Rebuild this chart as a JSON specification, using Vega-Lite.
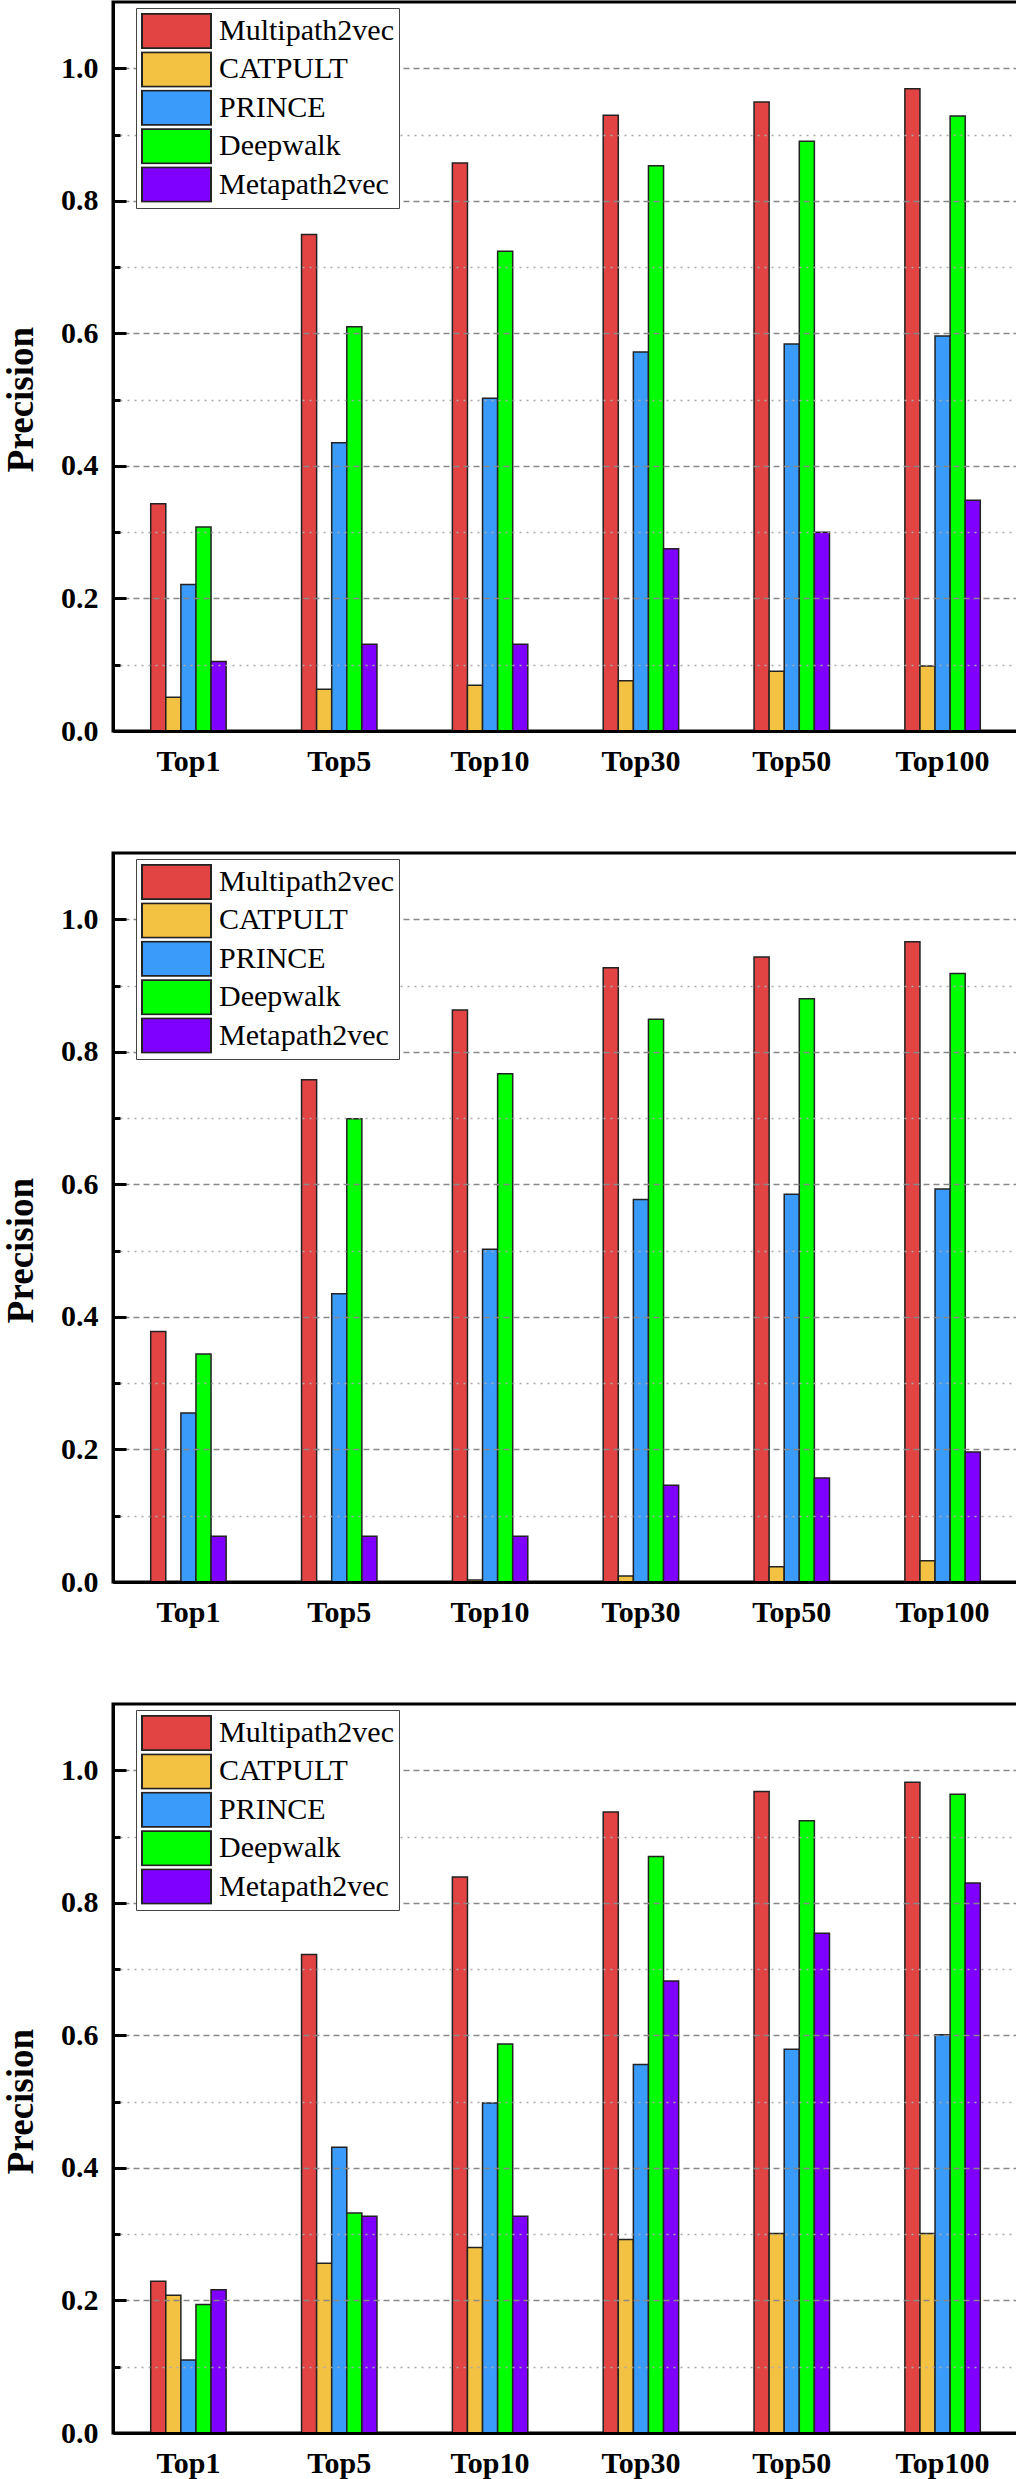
{
  "$schema": "https://vega.github.io/schema/vega-lite/v6.json",
  "padding": {"left": 0, "top": 0, "right": 0, "bottom": 0},
  "background": "white",
  "spacing": 73,
  "resolve": {"legend": {"color": "independent"}},
  "config": {
    "view": {"stroke": "black", "strokeWidth": 3},
    "font": "Liberation Serif"
  },
  "data": {"values": [
    {"p":1,"k":"Top1","m":"Multipath2vec","v":0.343},
    {"p":1,"k":"Top1","m":"CATPULT","v":0.051},
    {"p":1,"k":"Top1","m":"PRINCE","v":0.221},
    {"p":1,"k":"Top1","m":"Deepwalk","v":0.308},
    {"p":1,"k":"Top1","m":"Metapath2vec","v":0.105},
    {"p":1,"k":"Top5","m":"Multipath2vec","v":0.749},
    {"p":1,"k":"Top5","m":"CATPULT","v":0.063},
    {"p":1,"k":"Top5","m":"PRINCE","v":0.435},
    {"p":1,"k":"Top5","m":"Deepwalk","v":0.61},
    {"p":1,"k":"Top5","m":"Metapath2vec","v":0.131},
    {"p":1,"k":"Top10","m":"Multipath2vec","v":0.857},
    {"p":1,"k":"Top10","m":"CATPULT","v":0.069},
    {"p":1,"k":"Top10","m":"PRINCE","v":0.502},
    {"p":1,"k":"Top10","m":"Deepwalk","v":0.724},
    {"p":1,"k":"Top10","m":"Metapath2vec","v":0.131},
    {"p":1,"k":"Top30","m":"Multipath2vec","v":0.929},
    {"p":1,"k":"Top30","m":"CATPULT","v":0.076},
    {"p":1,"k":"Top30","m":"PRINCE","v":0.572},
    {"p":1,"k":"Top30","m":"Deepwalk","v":0.853},
    {"p":1,"k":"Top30","m":"Metapath2vec","v":0.275},
    {"p":1,"k":"Top50","m":"Multipath2vec","v":0.949},
    {"p":1,"k":"Top50","m":"CATPULT","v":0.09},
    {"p":1,"k":"Top50","m":"PRINCE","v":0.584},
    {"p":1,"k":"Top50","m":"Deepwalk","v":0.89},
    {"p":1,"k":"Top50","m":"Metapath2vec","v":0.3},
    {"p":1,"k":"Top100","m":"Multipath2vec","v":0.969},
    {"p":1,"k":"Top100","m":"CATPULT","v":0.098},
    {"p":1,"k":"Top100","m":"PRINCE","v":0.596},
    {"p":1,"k":"Top100","m":"Deepwalk","v":0.928},
    {"p":1,"k":"Top100","m":"Metapath2vec","v":0.348},
    {"p":2,"k":"Top1","m":"Multipath2vec","v":0.378},
    {"p":2,"k":"Top1","m":"CATPULT","v":0},
    {"p":2,"k":"Top1","m":"PRINCE","v":0.255},
    {"p":2,"k":"Top1","m":"Deepwalk","v":0.344},
    {"p":2,"k":"Top1","m":"Metapath2vec","v":0.069},
    {"p":2,"k":"Top5","m":"Multipath2vec","v":0.758},
    {"p":2,"k":"Top5","m":"CATPULT","v":0},
    {"p":2,"k":"Top5","m":"PRINCE","v":0.435},
    {"p":2,"k":"Top5","m":"Deepwalk","v":0.699},
    {"p":2,"k":"Top5","m":"Metapath2vec","v":0.069},
    {"p":2,"k":"Top10","m":"Multipath2vec","v":0.863},
    {"p":2,"k":"Top10","m":"CATPULT","v":0.003},
    {"p":2,"k":"Top10","m":"PRINCE","v":0.502},
    {"p":2,"k":"Top10","m":"Deepwalk","v":0.767},
    {"p":2,"k":"Top10","m":"Metapath2vec","v":0.069},
    {"p":2,"k":"Top30","m":"Multipath2vec","v":0.927},
    {"p":2,"k":"Top30","m":"CATPULT","v":0.009},
    {"p":2,"k":"Top30","m":"PRINCE","v":0.577},
    {"p":2,"k":"Top30","m":"Deepwalk","v":0.849},
    {"p":2,"k":"Top30","m":"Metapath2vec","v":0.146},
    {"p":2,"k":"Top50","m":"Multipath2vec","v":0.943},
    {"p":2,"k":"Top50","m":"CATPULT","v":0.023},
    {"p":2,"k":"Top50","m":"PRINCE","v":0.585},
    {"p":2,"k":"Top50","m":"Deepwalk","v":0.88},
    {"p":2,"k":"Top50","m":"Metapath2vec","v":0.157},
    {"p":2,"k":"Top100","m":"Multipath2vec","v":0.966},
    {"p":2,"k":"Top100","m":"CATPULT","v":0.032},
    {"p":2,"k":"Top100","m":"PRINCE","v":0.593},
    {"p":2,"k":"Top100","m":"Deepwalk","v":0.918},
    {"p":2,"k":"Top100","m":"Metapath2vec","v":0.196},
    {"p":3,"k":"Top1","m":"Multipath2vec","v":0.229},
    {"p":3,"k":"Top1","m":"CATPULT","v":0.208},
    {"p":3,"k":"Top1","m":"PRINCE","v":0.11},
    {"p":3,"k":"Top1","m":"Deepwalk","v":0.194},
    {"p":3,"k":"Top1","m":"Metapath2vec","v":0.216},
    {"p":3,"k":"Top5","m":"Multipath2vec","v":0.722},
    {"p":3,"k":"Top5","m":"CATPULT","v":0.256},
    {"p":3,"k":"Top5","m":"PRINCE","v":0.431},
    {"p":3,"k":"Top5","m":"Deepwalk","v":0.332},
    {"p":3,"k":"Top5","m":"Metapath2vec","v":0.327},
    {"p":3,"k":"Top10","m":"Multipath2vec","v":0.839},
    {"p":3,"k":"Top10","m":"CATPULT","v":0.28},
    {"p":3,"k":"Top10","m":"PRINCE","v":0.498},
    {"p":3,"k":"Top10","m":"Deepwalk","v":0.587},
    {"p":3,"k":"Top10","m":"Metapath2vec","v":0.327},
    {"p":3,"k":"Top30","m":"Multipath2vec","v":0.937},
    {"p":3,"k":"Top30","m":"CATPULT","v":0.292},
    {"p":3,"k":"Top30","m":"PRINCE","v":0.556},
    {"p":3,"k":"Top30","m":"Deepwalk","v":0.87},
    {"p":3,"k":"Top30","m":"Metapath2vec","v":0.682},
    {"p":3,"k":"Top50","m":"Multipath2vec","v":0.968},
    {"p":3,"k":"Top50","m":"CATPULT","v":0.301},
    {"p":3,"k":"Top50","m":"PRINCE","v":0.579},
    {"p":3,"k":"Top50","m":"Deepwalk","v":0.924},
    {"p":3,"k":"Top50","m":"Metapath2vec","v":0.754},
    {"p":3,"k":"Top100","m":"Multipath2vec","v":0.982},
    {"p":3,"k":"Top100","m":"CATPULT","v":0.301},
    {"p":3,"k":"Top100","m":"PRINCE","v":0.601},
    {"p":3,"k":"Top100","m":"Deepwalk","v":0.964},
    {"p":3,"k":"Top100","m":"Metapath2vec","v":0.83}
  ]},
  "vconcat": [
    {
      "width": 905, "height": 729,
      "transform": [{"filter": "datum.p == 1"}],
      "mark": {"type": "bar", "stroke": "#222", "strokeWidth": 1.5},
      "encoding": {
        "x": {"field": "k", "type": "nominal", "sort": ["Top1","Top5","Top10","Top30","Top50","Top100"],
          "scale": {"paddingInner": 0.5, "paddingOuter": 0.25},
          "axis": {"title": null, "ticks": false, "domain": true, "domainColor": "black", "domainWidth": 3, "labelAngle": 0, "labelFont": "Liberation Serif", "labelFontSize": 30, "labelFontWeight": "bold", "labelColor": "black", "labelPadding": 15, "zindex": 1}},
        "xOffset": {"field": "m", "type": "nominal", "sort": ["Multipath2vec","CATPULT","PRINCE","Deepwalk","Metapath2vec"], "scale": {"paddingInner": 0, "paddingOuter": 0}},
        "y": {"field": "v", "type": "quantitative", "scale": {"domain": [0, 1.1], "nice": false, "zero": true},
          "axis": {"values": [0,0.1,0.2,0.3,0.4,0.5,0.6,0.7,0.8,0.9,1.0],
            "labelExpr": "round(datum.value*10)%2==0 ? format(datum.value,'.1f') : ''",
            "tickSize": {"condition": {"test": "round(datum.value*10)%2==0", "value": -13}, "value": -7},
            "tickWidth": 3, "tickColor": "black",
            "domainColor": "black", "domainWidth": 3,
            "grid": true,
            "gridDash": {"condition": {"test": "round(datum.value*10)%2==0", "value": [6,4]}, "value": [2,5]},
            "gridColor": {"condition": {"test": "round(datum.value*10)%2==0", "value": "#888888"}, "value": "#aaaaaa"},
            "gridWidth": 1.5,
            "labelFont": "Liberation Serif", "labelFontSize": 30, "labelFontWeight": "bold", "labelColor": "black", "labelPadding": 28,
            "title": "Precision", "titleFont": "Liberation Serif", "titleFontSize": 37, "titleFontWeight": "bold", "titleColor": "black",
            "titleX": -81, "titleY": 397, "titleBaseline": "alphabetic", "titleAngle": 270,
            "zindex": 1}},
        "color": {"field": "m", "type": "nominal",
          "scale": {"domain": ["Multipath2vec","CATPULT","PRINCE","Deepwalk","Metapath2vec"], "range": ["#E24444","#F4C242","#3A9BFA","#00FF00","#7F00FF"]},
          "legend": {"title": null, "orient": "none", "legendX": 23, "legendY": 6, "zindex": 2,
            "symbolType": "M-1,-0.5H1V0.5H-1Z", "symbolSize": 4761, "symbolStrokeWidth": 2, "symbolStrokeColor": "#222", "symbolOpacity": 1,
            "clipHeight": 36, "rowPadding": 2.4, "labelOffset": 7,
            "labelFont": "Liberation Serif", "labelFontSize": 30, "labelColor": "black", "labelLimit": 400,
            "padding": 5, "strokeColor": "#444", "fillColor": "white", "cornerRadius": 0}}
      }
    },
    {
      "width": 905, "height": 729,
      "transform": [{"filter": "datum.p == 2"}],
      "mark": {"type": "bar", "stroke": "#222", "strokeWidth": 1.5},
      "encoding": {
        "x": {"field": "k", "type": "nominal", "sort": ["Top1","Top5","Top10","Top30","Top50","Top100"],
          "scale": {"paddingInner": 0.5, "paddingOuter": 0.25},
          "axis": {"title": null, "ticks": false, "domain": true, "domainColor": "black", "domainWidth": 3, "labelAngle": 0, "labelFont": "Liberation Serif", "labelFontSize": 30, "labelFontWeight": "bold", "labelColor": "black", "labelPadding": 15, "zindex": 1}},
        "xOffset": {"field": "m", "type": "nominal", "sort": ["Multipath2vec","CATPULT","PRINCE","Deepwalk","Metapath2vec"], "scale": {"paddingInner": 0, "paddingOuter": 0}},
        "y": {"field": "v", "type": "quantitative", "scale": {"domain": [0, 1.1], "nice": false, "zero": true},
          "axis": {"values": [0,0.1,0.2,0.3,0.4,0.5,0.6,0.7,0.8,0.9,1.0],
            "labelExpr": "round(datum.value*10)%2==0 ? format(datum.value,'.1f') : ''",
            "tickSize": {"condition": {"test": "round(datum.value*10)%2==0", "value": -13}, "value": -7},
            "tickWidth": 3, "tickColor": "black",
            "domainColor": "black", "domainWidth": 3,
            "grid": true,
            "gridDash": {"condition": {"test": "round(datum.value*10)%2==0", "value": [6,4]}, "value": [2,5]},
            "gridColor": {"condition": {"test": "round(datum.value*10)%2==0", "value": "#888888"}, "value": "#aaaaaa"},
            "gridWidth": 1.5,
            "labelFont": "Liberation Serif", "labelFontSize": 30, "labelFontWeight": "bold", "labelColor": "black", "labelPadding": 28,
            "title": "Precision", "titleFont": "Liberation Serif", "titleFontSize": 37, "titleFontWeight": "bold", "titleColor": "black",
            "titleX": -81, "titleY": 397, "titleBaseline": "alphabetic", "titleAngle": 270,
            "zindex": 1}},
        "color": {"field": "m", "type": "nominal",
          "scale": {"domain": ["Multipath2vec","CATPULT","PRINCE","Deepwalk","Metapath2vec"], "range": ["#E24444","#F4C242","#3A9BFA","#00FF00","#7F00FF"]},
          "legend": {"title": null, "orient": "none", "legendX": 23, "legendY": 6, "zindex": 2,
            "symbolType": "M-1,-0.5H1V0.5H-1Z", "symbolSize": 4761, "symbolStrokeWidth": 2, "symbolStrokeColor": "#222", "symbolOpacity": 1,
            "clipHeight": 36, "rowPadding": 2.4, "labelOffset": 7,
            "labelFont": "Liberation Serif", "labelFontSize": 30, "labelColor": "black", "labelLimit": 400,
            "padding": 5, "strokeColor": "#444", "fillColor": "white", "cornerRadius": 0}}
      }
    },
    {
      "width": 905, "height": 729,
      "transform": [{"filter": "datum.p == 3"}],
      "mark": {"type": "bar", "stroke": "#222", "strokeWidth": 1.5},
      "encoding": {
        "x": {"field": "k", "type": "nominal", "sort": ["Top1","Top5","Top10","Top30","Top50","Top100"],
          "scale": {"paddingInner": 0.5, "paddingOuter": 0.25},
          "axis": {"title": null, "ticks": false, "domain": true, "domainColor": "black", "domainWidth": 3, "labelAngle": 0, "labelFont": "Liberation Serif", "labelFontSize": 30, "labelFontWeight": "bold", "labelColor": "black", "labelPadding": 15, "zindex": 1}},
        "xOffset": {"field": "m", "type": "nominal", "sort": ["Multipath2vec","CATPULT","PRINCE","Deepwalk","Metapath2vec"], "scale": {"paddingInner": 0, "paddingOuter": 0}},
        "y": {"field": "v", "type": "quantitative", "scale": {"domain": [0, 1.1], "nice": false, "zero": true},
          "axis": {"values": [0,0.1,0.2,0.3,0.4,0.5,0.6,0.7,0.8,0.9,1.0],
            "labelExpr": "round(datum.value*10)%2==0 ? format(datum.value,'.1f') : ''",
            "tickSize": {"condition": {"test": "round(datum.value*10)%2==0", "value": -13}, "value": -7},
            "tickWidth": 3, "tickColor": "black",
            "domainColor": "black", "domainWidth": 3,
            "grid": true,
            "gridDash": {"condition": {"test": "round(datum.value*10)%2==0", "value": [6,4]}, "value": [2,5]},
            "gridColor": {"condition": {"test": "round(datum.value*10)%2==0", "value": "#888888"}, "value": "#aaaaaa"},
            "gridWidth": 1.5,
            "labelFont": "Liberation Serif", "labelFontSize": 30, "labelFontWeight": "bold", "labelColor": "black", "labelPadding": 28,
            "title": "Precision", "titleFont": "Liberation Serif", "titleFontSize": 37, "titleFontWeight": "bold", "titleColor": "black",
            "titleX": -81, "titleY": 397, "titleBaseline": "alphabetic", "titleAngle": 270,
            "zindex": 1}},
        "color": {"field": "m", "type": "nominal",
          "scale": {"domain": ["Multipath2vec","CATPULT","PRINCE","Deepwalk","Metapath2vec"], "range": ["#E24444","#F4C242","#3A9BFA","#00FF00","#7F00FF"]},
          "legend": {"title": null, "orient": "none", "legendX": 23, "legendY": 6, "zindex": 2,
            "symbolType": "M-1,-0.5H1V0.5H-1Z", "symbolSize": 4761, "symbolStrokeWidth": 2, "symbolStrokeColor": "#222", "symbolOpacity": 1,
            "clipHeight": 36, "rowPadding": 2.4, "labelOffset": 7,
            "labelFont": "Liberation Serif", "labelFontSize": 30, "labelColor": "black", "labelLimit": 400,
            "padding": 5, "strokeColor": "#444", "fillColor": "white", "cornerRadius": 0}}
      }
    }
  ]
}
